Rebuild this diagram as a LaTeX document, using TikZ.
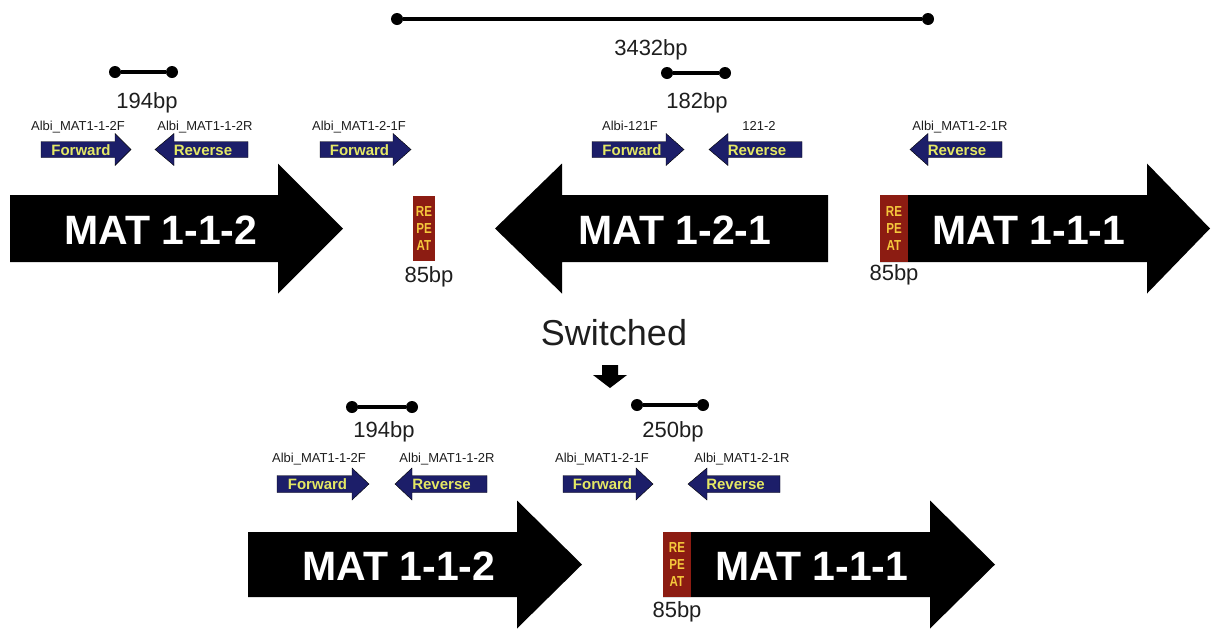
\documentclass[tikz,border=0pt]{standalone}
\usepackage{fontspec}
\setmainfont{Liberation Sans}
\newfontfamily\repfont{Liberation Sans}[FakeStretch=0.8]
\definecolor{navy}{RGB}{28,30,105}
\definecolor{primyellow}{RGB}{228,232,100}
\definecolor{repred}{RGB}{140,28,18}
\definecolor{repyellow}{RGB}{245,200,60}
\definecolor{labgray}{RGB}{30,30,30}
\newcommand{\blockarrow}[7]{\path[#7] (#1,{#4-#5}) -- (#2,{#4-#5}) -- (#2,{#4-#6}) -- (#3,#4) -- (#2,{#4+#6}) -- (#2,{#4+#5}) -- (#1,{#4+#5}) -- cycle;}
\begin{document}
\begin{tikzpicture}[x=1pt,y=-1pt,
  geneshape/.style={fill=black},
  primshape/.style={fill=navy, draw=black, line width=0.4pt},
  matlabel/.style={text=white, font=\fontsize{41}{41}\selectfont\bfseries, anchor=base, inner sep=0},
  primtxt/.style={text=primyellow, font=\fontsize{15}{15}\selectfont\bfseries, anchor=base, inner sep=0},
  plabel/.style={text=labgray, font=\fontsize{13}{13}\selectfont, anchor=base, inner sep=0},
  bplabel/.style={text=labgray, font=\fontsize{22}{22}\selectfont, anchor=base, inner sep=0},
  dot/.style={circle, fill=black, minimum size=12pt, inner sep=0},
  bar/.style={line width=3.5pt},
  repbox/.style={fill=repred, text=repyellow, font=\repfont\bfseries\fontsize{14.5}{17}\selectfont, align=center, inner sep=0}
]
\useasboundingbox (0,0) rectangle (1212,630);

% ---------- scale bars ----------
\node[dot] (t1) at (397,19) {};
\node[dot] (t2) at (928,19) {};
\draw[bar] (t1) -- (t2);
\node[bplabel] (l3432) at (651,55) {3432bp};

\node[dot] (a1) at (115,72) {};
\node[dot] (a2) at (172,72) {};
\draw[bar] (a1) -- (a2);
\node[bplabel] (l194a) at (147,108) {194bp};

\node[dot] (b1) at (667,73) {};
\node[dot] (b2) at (725,73) {};
\draw[bar] (b1) -- (b2);
\node[bplabel] (l182) at (697,108) {182bp};

\node[dot] (c1) at (352,407) {};
\node[dot] (c2) at (412,407) {};
\draw[bar] (c1) -- (c2);
\node[bplabel] (l194b) at (384,437) {194bp};

\node[dot] (d1) at (637,405) {};
\node[dot] (d2) at (703,405) {};
\draw[bar] (d1) -- (d2);
\node[bplabel] (l250) at (673,437) {250bp};

% ---------- primer labels ----------
\node[plabel] (p1) at (78,130) {Albi\_MAT1-1-2F};
\node[plabel] (p2) at (205,130) {Albi\_MAT1-1-2R};
\node[plabel] (p3) at (359,130) {Albi\_MAT1-2-1F};
\node[plabel] (p4) at (630,130) {Albi-121F};
\node[plabel] (p5) at (759,130) {121-2};
\node[plabel] (p6) at (960,130) {Albi\_MAT1-2-1R};
\node[plabel] (p7) at (319,462) {Albi\_MAT1-1-2F};
\node[plabel] (p8) at (447,462) {Albi\_MAT1-1-2R};
\node[plabel] (p9) at (602,462) {Albi\_MAT1-2-1F};
\node[plabel] (p10) at (742,462) {Albi\_MAT1-2-1R};

% ---------- primer arrows ----------
\blockarrow{41}{115}{131}{149.5}{8}{16}{primshape}
\blockarrow{248}{174}{155}{149.5}{8}{16}{primshape}
\blockarrow{320}{393}{411}{149.5}{8}{16}{primshape}
\blockarrow{592}{666}{684}{149.5}{8}{16}{primshape}
\blockarrow{802}{728}{709}{149.5}{8}{16}{primshape}
\blockarrow{1002}{928}{910}{149.5}{8}{16}{primshape}
\blockarrow{277}{352}{369}{484}{8.5}{16}{primshape}
\blockarrow{487}{412}{395}{484}{8.5}{16}{primshape}
\blockarrow{563}{636}{653}{484}{8.5}{16}{primshape}
\blockarrow{780}{707}{688}{484}{8.5}{16}{primshape}
\node[primtxt] (f1) at (81,155) {Forward};
\node[primtxt] (r1) at (203,155) {Reverse};
\node[primtxt] (f2) at (359.5,155) {Forward};
\node[primtxt] (f3) at (632,155) {Forward};
\node[primtxt] (r2) at (757,155) {Reverse};
\node[primtxt] (r3) at (957,155) {Reverse};
\node[primtxt] (f4) at (317.5,489.5) {Forward};
\node[primtxt] (r4) at (441.5,489.5) {Reverse};
\node[primtxt] (f5) at (602.5,489.5) {Forward};
\node[primtxt] (r5) at (735.5,489.5) {Reverse};

% ---------- genes, top row ----------
\blockarrow{10}{278}{343}{228.5}{33.5}{65}{geneshape}
\blockarrow{828}{562}{495}{228.5}{33.5}{65}{geneshape}
\blockarrow{880}{1147}{1210}{228.5}{33.5}{65}{geneshape}
\node[matlabel] (g1) at (161,244) {MAT 1-1-2};
\node[matlabel] (g2) at (675,244) {MAT 1-2-1};
\node[matlabel] (g3) at (1029,244) {MAT 1-1-1};
\node[repbox, minimum width=22pt, minimum height=65pt] (rep1) at (424,228.5) {RE\\PE\\AT};
\node[repbox, minimum width=28pt, minimum height=67pt] (rep2) at (894,228.5) {RE\\PE\\AT};
\node[bplabel] (l85a) at (429,282) {85bp};
\node[bplabel] (l85b) at (894,280) {85bp};

% ---------- switched ----------
\node[text=labgray, font=\fontsize{36}{36}\selectfont, anchor=base, inner sep=0] (sw) at (614,345) {Switched};
\path[fill=black] (602,365) -- (618,365) -- (618,375) -- (627,375) -- (610,388) -- (593,375) -- (602,375) -- cycle;

% ---------- genes, bottom row ----------
\blockarrow{248}{517}{582}{564.5}{32.5}{64}{geneshape}
\blockarrow{663}{930}{995}{564.5}{32.5}{64}{geneshape}
\node[matlabel] (g4) at (399,580) {MAT 1-1-2};
\node[matlabel] (g5) at (812,580) {MAT 1-1-1};
\node[repbox, minimum width=28pt, minimum height=65pt] (rep3) at (677,564.5) {RE\\PE\\AT};
\node[bplabel] (l85c) at (677,617) {85bp};
\end{tikzpicture}
\end{document}
